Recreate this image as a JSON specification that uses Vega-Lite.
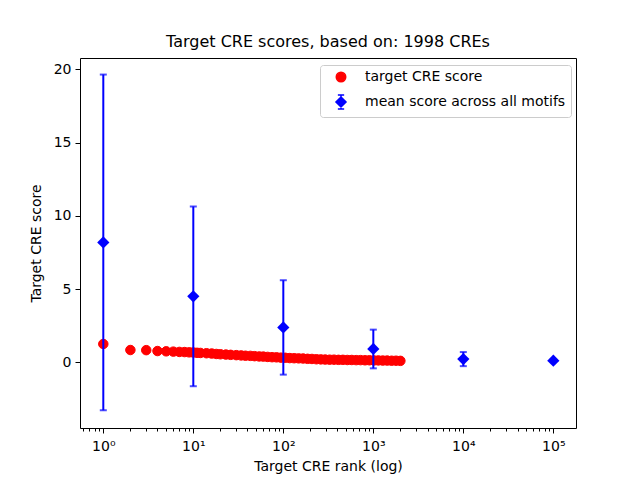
{
  "$schema": "https://vega.github.io/schema/vega-lite/v6.json",
  "width": 496,
  "height": 370,
  "autosize": {"type": "none"},
  "padding": {"left": 80, "top": 58, "right": 64, "bottom": 52},
  "title": {"text": "Target CRE scores, based on: 1998 CREs", "fontSize": 16, "fontWeight": "normal", "font": "DejaVu Sans", "offset": 8, "anchor": "middle", "color": "black"},
  "config": {
    "font": "DejaVu Sans",
    "view": {"stroke": "black", "strokeWidth": 1},
    "axis": {"grid": false, "domain": false, "tickColor": "black", "tickWidth": 1, "labelColor": "black", "titleColor": "black", "labelFontSize": 14, "titleFontSize": 14, "titleFontWeight": "normal", "labelFont": "DejaVu Sans", "titleFont": "DejaVu Sans"}
  },
  "datasets": {
    "cre": [
      {"rank": 1, "score": 1.26, "series": "target CRE score"},
      {"rank": 2, "score": 0.85, "series": "target CRE score"},
      {"rank": 3, "score": 0.84, "series": "target CRE score"},
      {"rank": 4, "score": 0.78, "series": "target CRE score"},
      {"rank": 5, "score": 0.76, "series": "target CRE score"},
      {"rank": 6, "score": 0.74, "series": "target CRE score"},
      {"rank": 7, "score": 0.72, "series": "target CRE score"},
      {"rank": 8, "score": 0.71, "series": "target CRE score"},
      {"rank": 9, "score": 0.69, "series": "target CRE score"},
      {"rank": 10, "score": 0.68, "series": "target CRE score"},
      {"rank": 11, "score": 0.66, "series": "target CRE score"},
      {"rank": 12, "score": 0.65, "series": "target CRE score"},
      {"rank": 14, "score": 0.63, "series": "target CRE score"},
      {"rank": 16, "score": 0.61, "series": "target CRE score"},
      {"rank": 18, "score": 0.58, "series": "target CRE score"},
      {"rank": 20, "score": 0.56, "series": "target CRE score"},
      {"rank": 23, "score": 0.54, "series": "target CRE score"},
      {"rank": 26, "score": 0.52, "series": "target CRE score"},
      {"rank": 30, "score": 0.50, "series": "target CRE score"},
      {"rank": 34, "score": 0.48, "series": "target CRE score"},
      {"rank": 38, "score": 0.46, "series": "target CRE score"},
      {"rank": 43, "score": 0.45, "series": "target CRE score"},
      {"rank": 48, "score": 0.43, "series": "target CRE score"},
      {"rank": 54, "score": 0.41, "series": "target CRE score"},
      {"rank": 60, "score": 0.40, "series": "target CRE score"},
      {"rank": 67, "score": 0.38, "series": "target CRE score"},
      {"rank": 75, "score": 0.36, "series": "target CRE score"},
      {"rank": 84, "score": 0.35, "series": "target CRE score"},
      {"rank": 94, "score": 0.33, "series": "target CRE score"},
      {"rank": 105, "score": 0.32, "series": "target CRE score"},
      {"rank": 118, "score": 0.30, "series": "target CRE score"},
      {"rank": 132, "score": 0.29, "series": "target CRE score"},
      {"rank": 148, "score": 0.28, "series": "target CRE score"},
      {"rank": 166, "score": 0.27, "series": "target CRE score"},
      {"rank": 186, "score": 0.25, "series": "target CRE score"},
      {"rank": 208, "score": 0.24, "series": "target CRE score"},
      {"rank": 233, "score": 0.22, "series": "target CRE score"},
      {"rank": 261, "score": 0.21, "series": "target CRE score"},
      {"rank": 292, "score": 0.20, "series": "target CRE score"},
      {"rank": 327, "score": 0.19, "series": "target CRE score"},
      {"rank": 366, "score": 0.19, "series": "target CRE score"},
      {"rank": 410, "score": 0.18, "series": "target CRE score"},
      {"rank": 459, "score": 0.18, "series": "target CRE score"},
      {"rank": 514, "score": 0.17, "series": "target CRE score"},
      {"rank": 576, "score": 0.17, "series": "target CRE score"},
      {"rank": 645, "score": 0.16, "series": "target CRE score"},
      {"rank": 722, "score": 0.16, "series": "target CRE score"},
      {"rank": 809, "score": 0.15, "series": "target CRE score"},
      {"rank": 906, "score": 0.15, "series": "target CRE score"},
      {"rank": 1015, "score": 0.14, "series": "target CRE score"},
      {"rank": 1137, "score": 0.14, "series": "target CRE score"},
      {"rank": 1273, "score": 0.13, "series": "target CRE score"},
      {"rank": 1426, "score": 0.13, "series": "target CRE score"},
      {"rank": 1597, "score": 0.12, "series": "target CRE score"},
      {"rank": 1789, "score": 0.12, "series": "target CRE score"},
      {"rank": 1998, "score": 0.11, "series": "target CRE score"}
    ],
    "motif": [
      {"rank": 1, "mean": 8.19, "lo": -3.26, "hi": 19.64},
      {"rank": 10, "mean": 4.51, "lo": -1.62, "hi": 10.64},
      {"rank": 100, "mean": 2.39, "lo": -0.83, "hi": 5.61},
      {"rank": 1000, "mean": 0.92, "lo": -0.40, "hi": 2.24},
      {"rank": 10000, "mean": 0.23, "lo": -0.25, "hi": 0.71},
      {"rank": 100000, "mean": 0.12, "lo": 0.11, "hi": 0.13}
    ]
  },
  "encoding": {
    "x": {
      "field": "rank", "type": "quantitative",
      "scale": {"type": "log", "domain": [0.551, 178600], "nice": false},
      "axis": {
        "title": "Target CRE rank (log)",
        "values": [0.6, 0.7, 0.8, 0.9, 1, 2, 3, 4, 5, 6, 7, 8, 9, 10, 20, 30, 40, 50, 60, 70, 80, 90, 100, 200, 300, 400, 500, 600, 700, 800, 900, 1000, 2000, 3000, 4000, 5000, 6000, 7000, 8000, 9000, 10000, 20000, 30000, 40000, 50000, 60000, 70000, 80000, 90000, 100000],
        "labelExpr": "datum.value == 1 ? '10⁰' : datum.value == 10 ? '10¹' : datum.value == 100 ? '10²' : datum.value == 1000 ? '10³' : datum.value == 10000 ? '10⁴' : datum.value == 100000 ? '10⁵' : ''",
        "tickSize": {"condition": {"test": "indexof([1, 10, 100, 1000, 10000, 100000], datum.value) >= 0", "value": 5}, "value": 3},
        "labelOverlap": false,
        "labelFlush": false,
        "labelBound": false,
        "labelPadding": 6,
        "titlePadding": 6
      }
    }
  },
  "layer": [
    {
      "data": {"name": "cre"},
      "mark": {"type": "point", "filled": true, "opacity": 1, "strokeWidth": 1},
      "encoding": {
        "y": {"field": "score", "type": "quantitative", "scale": {"domain": [-4.47, 20.77], "nice": false, "zero": false},
              "axis": {"title": "Target CRE score", "values": [0, 5, 10, 15, 20], "tickSize": 5, "labelPadding": 4, "titlePadding": 10}},
        "color": {
          "field": "series", "type": "nominal",
          "scale": {"domain": ["target CRE score", "mean score across all motifs"], "range": ["#ff0000", "#0000ff"]},
          "legend": {
            "orient": "none", "legendX": 240, "legendY": 7, "title": null,
            "padding": 5, "symbolOffset": 8, "labelOffset": 16, "rowPadding": 7,
            "strokeColor": "#cccccc", "fillColor": "white", "cornerRadius": 3,
            "symbolStrokeWidth": 1.5, "symbolOpacity": 1,
            "labelFontSize": 14, "labelLimit": 400, "labelColor": "black", "labelFont": "DejaVu Sans"
          }
        },
        "stroke": {
          "field": "series", "type": "nominal",
          "scale": {"domain": ["target CRE score", "mean score across all motifs"], "range": ["#ff0000", "#0000ff"]}
        },
        "size": {
          "field": "series", "type": "nominal",
          "scale": {"type": "ordinal", "domain": ["target CRE score", "mean score across all motifs"], "range": [90, 196]}
        },
        "shape": {
          "field": "series", "type": "nominal",
          "scale": {"domain": ["target CRE score", "mean score across all motifs"], "range": ["circle", "M0,-0.72L0.72,0L0,0.72L-0.72,0Z M0,-1L0,1 M-0.45,-1L0.45,-1 M-0.45,1L0.45,1"]}
        }
      }
    },
    {
      "data": {"name": "motif"},
      "mark": {"type": "rule", "color": "#0000ff", "strokeWidth": 2},
      "encoding": {
        "y": {"field": "lo", "type": "quantitative", "scale": {"domain": [-4.47, 20.77], "nice": false, "zero": false},
              "axis": {"title": "Target CRE score", "values": [0, 5, 10, 15, 20], "tickSize": 5, "labelPadding": 4, "titlePadding": 10}},
        "y2": {"field": "hi"}
      }
    },
    {
      "data": {"name": "motif"},
      "mark": {"type": "tick", "orient": "horizontal", "color": "#0000ff", "size": 7, "thickness": 2},
      "encoding": {
        "y": {"field": "hi", "type": "quantitative", "scale": {"domain": [-4.47, 20.77], "nice": false, "zero": false},
              "axis": {"title": "Target CRE score", "values": [0, 5, 10, 15, 20], "tickSize": 5, "labelPadding": 4, "titlePadding": 10}}
      }
    },
    {
      "data": {"name": "motif"},
      "mark": {"type": "tick", "orient": "horizontal", "color": "#0000ff", "size": 7, "thickness": 2},
      "encoding": {
        "y": {"field": "lo", "type": "quantitative", "scale": {"domain": [-4.47, 20.77], "nice": false, "zero": false},
              "axis": {"title": "Target CRE score", "values": [0, 5, 10, 15, 20], "tickSize": 5, "labelPadding": 4, "titlePadding": 10}}
      }
    },
    {
      "data": {"name": "motif"},
      "mark": {"type": "point", "shape": "diamond", "filled": true, "size": 150, "color": "#0000ff", "opacity": 1},
      "encoding": {
        "y": {"field": "mean", "type": "quantitative", "scale": {"domain": [-4.47, 20.77], "nice": false, "zero": false},
              "axis": {"title": "Target CRE score", "values": [0, 5, 10, 15, 20], "tickSize": 5, "labelPadding": 4, "titlePadding": 10}}
      }
    }
  ]
}
